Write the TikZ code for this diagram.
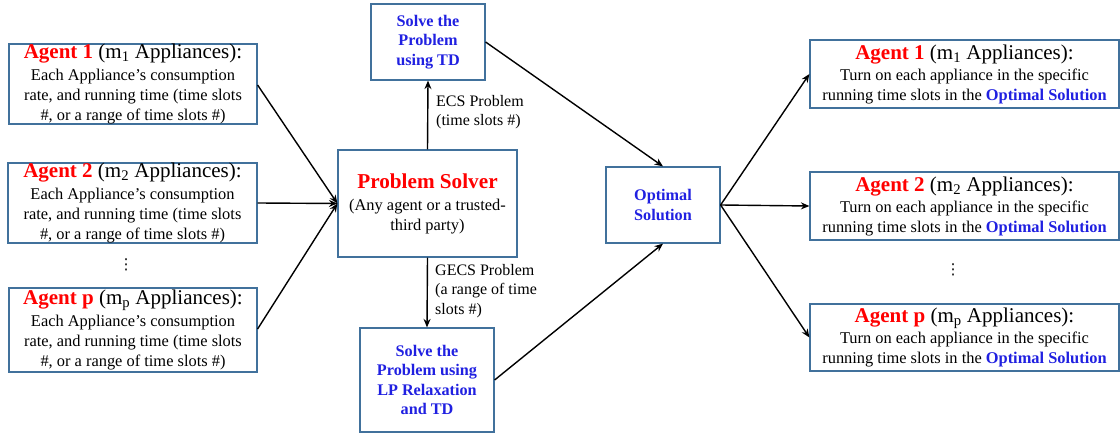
\documentclass[tikz,border=0pt]{standalone}
\usepackage{fontspec}
\setmainfont{Liberation Serif}
\newfontfamily\symfont{DejaVu Sans}
\usetikzlibrary{arrows.meta}
\definecolor{boxblue}{RGB}{65,113,156}
\definecolor{tred}{RGB}{255,0,0}
\definecolor{tblue}{RGB}{32,32,225}
\newcommand\agtitle[2]{{\fontsize{21}{22}\selectfont\textcolor{tred}{\textbf{Agent #1}} (m\textsubscript{#2} Appliances):}}
\newcommand\optsol{\textcolor{tblue}{\textbf{Optimal Solution}}}
\tikzset{
  box/.style={draw=boxblue, line width=1.2pt, align=center, inner sep=0pt, fill=white,
     font=\fontsize{16.4}{20}\selectfont},
  bluebox/.style={box, font=\fontsize{16.2}{19.5}\selectfont\bfseries\color{tblue}},
  lbl/.style={align=left, inner sep=0pt, anchor=north west, font=\fontsize{16}{19.5}\selectfont},
  arr/.style={line width=1.4pt, -{Stealth[length=8.5pt,width=7pt]}},
  dotsym/.style={inner sep=0pt, font=\symfont\fontsize{15}{18}\selectfont},
}
\begin{document}
\begin{tikzpicture}[x=1pt,y=-1pt]
\useasboundingbox (0,0) rectangle (1120,435);
% left agents
\node[box, minimum width=248pt, minimum height=80pt] (a1) at (133,84)
  {\agtitle{1}{1}\\[2pt] Each Appliance's consumption\\ rate, and running time (time slots\\ \#, or a range of time slots \#)};
\node[box, minimum width=249pt, minimum height=80pt] (a2) at (132.5,203)
  {\agtitle{2}{2}\\[2pt] Each Appliance's consumption\\ rate, and running time (time slots\\ \#, or a range of time slots \#)};
\node[box, minimum width=248pt, minimum height=84pt] (ap) at (133,330)
  {\agtitle{p}{p}\\[2pt] Each Appliance's consumption\\ rate, and running time (time slots\\ \#, or a range of time slots \#)};
\node[dotsym] (ldots) at (126,265) {⋮};
% problem solver
\node[box, minimum width=179pt, minimum height=107pt] (ps) at (427.5,203.5)
  {{\fontsize{21.2}{22}\selectfont\textcolor{tred}{\textbf{Problem Solver}}}\\[2pt] (Any agent or a trusted-\\ third party)};
\node[bluebox, minimum width=114pt, minimum height=76pt] (td) at (428,42)
  {Solve the\\ Problem\\ using TD};
\node[bluebox, minimum width=134pt, minimum height=104pt] (lp) at (427,380)
  {Solve the\\ Problem using\\ LP Relaxation\\ and TD};
\node[bluebox, minimum width=114pt, minimum height=76pt] (os) at (663,205)
  {Optimal\\ Solution};
% right agents
\node[box, minimum width=309pt, minimum height=68pt] (r1) at (964.5,74)
  {\agtitle{1}{1}\\[1pt] Turn on each appliance in the specific\\ running time slots in the \optsol};
\node[box, minimum width=309pt, minimum height=68pt] (r2) at (964.5,206)
  {\agtitle{2}{2}\\[1pt] Turn on each appliance in the specific\\ running time slots in the \optsol};
\node[box, minimum width=309pt, minimum height=67pt] (rp) at (964.5,337.5)
  {\agtitle{p}{p}\\[1pt] Turn on each appliance in the specific\\ running time slots in the \optsol};
\node[dotsym] (rdots) at (953,270) {⋮};
% labels
\node[lbl] (ecs) at (436,95) {ECS Problem\\ (time slots \#)};
\node[lbl] (gecs) at (435,264) {GECS Problem\\ (a range of time\\ slots \#)};
% connectors
\draw[arr] (a1.east |- 0,85) -- (ps.west);
\draw[arr] (a2.east) -- (ps.west);
\draw[arr] (ap.east |- 0,329) -- (ps.west);
\draw[arr] (ps.north) -- (td.south);
\draw[arr] (ps.south) -- (lp.north);
\draw[arr] (td.east) -- (os.north);
\draw[arr] (lp.east) -- (os.south);
\draw[arr] (os.east) -- (r1.west);
\draw[arr] (os.east) -- (r2.west);
\draw[arr] (os.east) -- (rp.west);
\end{tikzpicture}
\end{document}
